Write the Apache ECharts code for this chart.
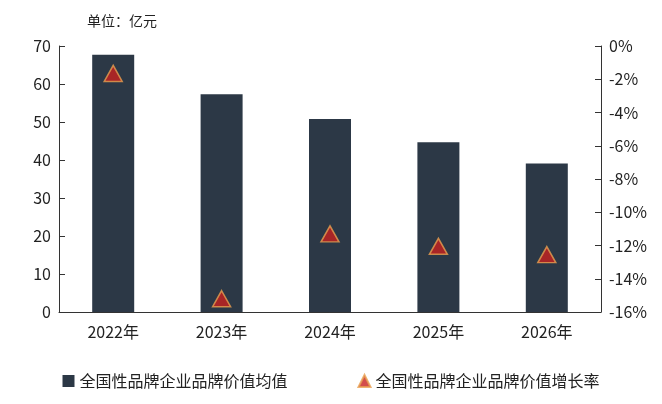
<!DOCTYPE html>
<html><head><meta charset="utf-8">
<script src="https://cdn.jsdelivr.net/npm/echarts@6/dist/echarts.min.js"></script>
<style>html,body{margin:0;padding:0;background:#fff}#c{width:662px;height:404px}</style>
</head><body><div id="c"></div>
<script>
const categories = ['2022年','2023年','2024年','2025年','2026年'];
const avgValue = [67.7, 57.3, 50.8, 44.7, 39.1];
const growthRate = [-1.65, -15.2, -11.3, -12.05, -12.55];
const nameBar = '全国性品牌企业品牌价值均值';
const nameRate = '全国性品牌企业品牌价值增长率';
const font = 'Noto Sans CJK SC';
const chart = echarts.init(document.getElementById('c'));
chart.setOption({
  textStyle:{fontFamily:font},
  animation:false,
  grid:{left:59,right:61,top:46,bottom:92},
  graphic:[{type:'text',left:87,top:14,style:{text:'单位：亿元',fontSize:14,fill:'#222',fontFamily:font}}],
  legend:{bottom:10,left:'center',itemGap:70,itemWidth:12,itemHeight:12,textStyle:{fontSize:16,color:'#222'},
    data:[{name:nameBar,icon:'rect'},{name:nameRate,icon:'triangle'}]},
  xAxis:{type:'category',data:categories,axisLine:{lineStyle:{color:'#333'}},
    axisTick:{inside:true,length:6,lineStyle:{color:'#333'}},
    axisLabel:{fontSize:16,color:'#222',margin:12}},
  yAxis:[
    {type:'value',min:0,max:70,interval:10,splitLine:{show:false},
     axisLine:{show:true,lineStyle:{color:'#333'}},axisTick:{show:true,inside:true,length:6,lineStyle:{color:'#333'}},
     axisLabel:{fontSize:16,color:'#222',margin:8}},
    {type:'value',min:-16,max:0,interval:2,splitLine:{show:false},
     axisLine:{show:true,lineStyle:{color:'#333'}},axisTick:{show:true,inside:true,length:6,lineStyle:{color:'#333'}},
     axisLabel:{fontSize:16,color:'#222',margin:8,formatter:'{value}%'}}
  ],
  series:[
    {name:nameBar,type:'bar',data:avgValue,barWidth:42,itemStyle:{color:'#2c3846'}},
    {name:nameRate,type:'scatter',yAxisIndex:1,data:growthRate,symbol:'triangle',symbolSize:[18,16],
     itemStyle:{color:'#c8201e',borderColor:'#e8a050',borderWidth:1.5}}
  ]
});
</script></body></html>
